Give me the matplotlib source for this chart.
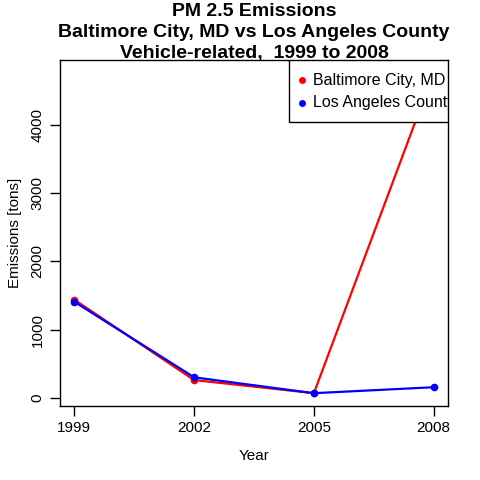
import matplotlib
matplotlib.use("Agg")
import matplotlib.pyplot as plt
from matplotlib.patches import Rectangle

years = [1999, 2002, 2005, 2008]
baltimore = [1440, 265, 73, 4760]
los_angeles = [1410, 305, 73, 160]
series_names = ["Baltimore City, MD", "Los Angeles County"]
series_colors = ["red", "blue"]
y_ticks = [0, 1000, 2000, 3000, 4000]
title_lines = ["PM 2.5 Emissions",
               "Baltimore City, MD vs Los Angeles County",
               "Vehicle-related,  1999 to 2008"]

plt.rcParams["font.family"] = ["Liberation Sans", "DejaVu Sans"]

fig = plt.figure(figsize=(4.8, 4.8), dpi=100)
ax = fig.add_axes([60 / 480, 74 / 480, 388 / 480, 346 / 480])

for vals, col in zip([baltimore, los_angeles], series_colors):
    ax.plot(years, vals, color=col, linewidth=1.6, marker="o", markersize=4.5,
            solid_joinstyle="round")

# R-style 4% padding
allv = baltimore + los_angeles
lo, hi = min(allv), max(allv)
pad = 0.04 * (hi - lo)
ax.set_ylim(lo - pad, hi + pad)
xpad = 0.04 * (years[-1] - years[0])
ax.set_xlim(years[0] - xpad, years[-1] + xpad)

ax.set_xticks(years)
ax.set_yticks(y_ticks)
ax.set_yticklabels([str(t) for t in y_ticks], rotation=90, va="center")
ax.tick_params(direction="out", length=7, width=1, labelsize=11, pad=4, colors="black")
for s in ax.spines.values():
    s.set_linewidth(1)

ax.set_xlabel("Year", fontsize=11, labelpad=10)
ax.set_ylabel("Emissions [tons]", fontsize=11, labelpad=6)

# three title lines, the last one touching the plot box as in the original
for line, base in zip(title_lines, [16, 37, 58]):
    fig.text(254 / 480, 1 - base / 480, line, ha="center", va="baseline",
             fontsize=14, fontweight="bold", zorder=0)

# legend box in the top-right corner (text runs past the edge, like the original)
lx0, ly0 = (289 - 60) / 388, (406 - 122) / 346
ax.add_patch(Rectangle((lx0, ly0), 1 - lx0, 1 - ly0, transform=ax.transAxes,
                       facecolor="white", edgecolor="black", linewidth=1, zorder=5))
for i, (name, col) in enumerate(zip(series_names, series_colors)):
    yy = 1 - (20 + 23 * i) / 346
    ax.plot([(302 - 60) / 388], [yy], transform=ax.transAxes, marker="o",
            markersize=4, color=col, zorder=6, clip_on=False)
    ax.text((313 - 60) / 388, yy, name, transform=ax.transAxes, fontsize=11.5,
            va="center", ha="left", zorder=6, clip_on=True)

fig.savefig("out.png", dpi=100)
